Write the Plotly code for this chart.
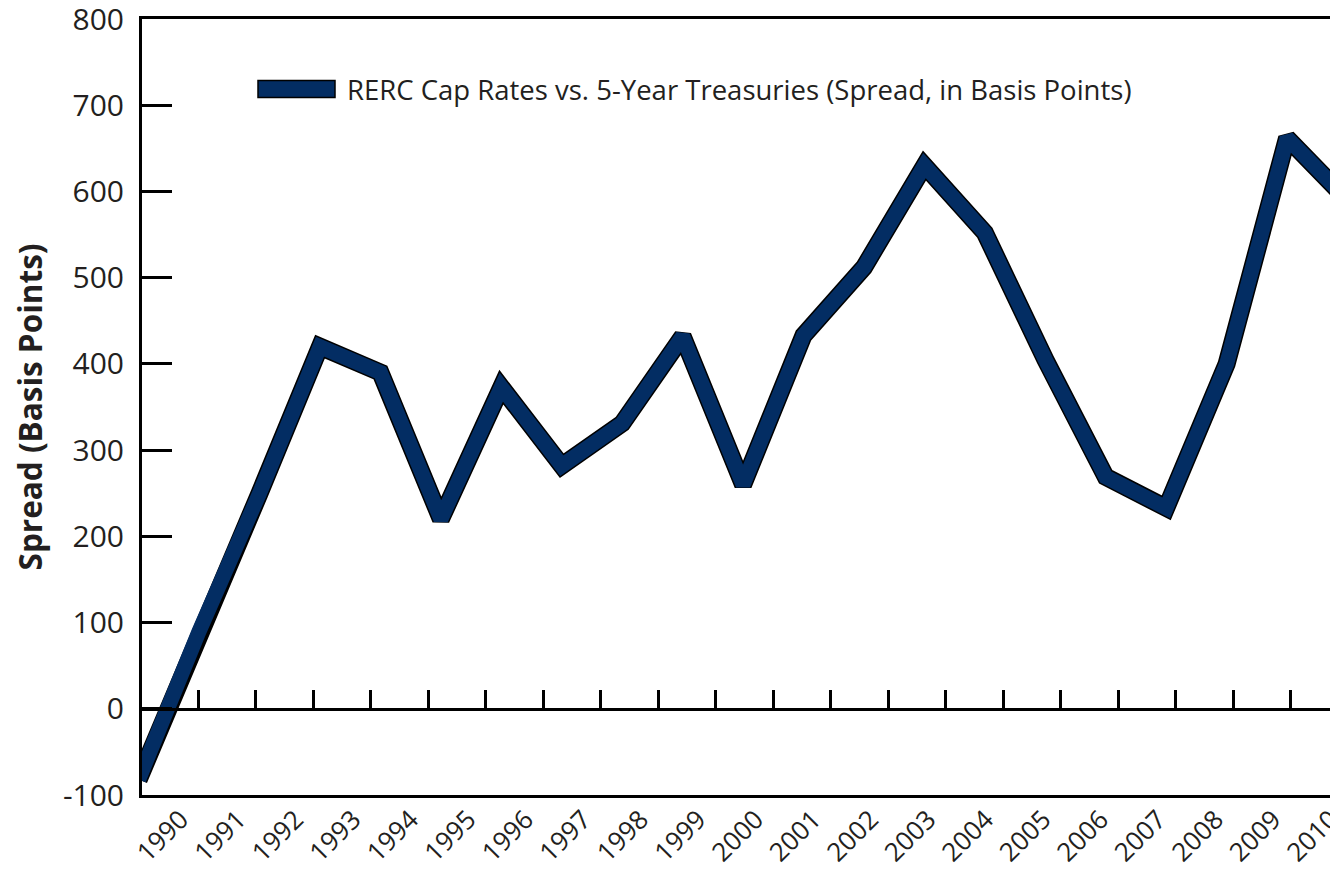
import plotly.graph_objects as go

# ---- data ----
years = list(range(1990, 2011))
year_labels = [str(y) for y in years]
spread_bp = [-82, 90, 250, 420, 390, 220, 373, 282, 331, 432, 260,
             433, 512, 630, 552, 405, 269, 233, 400, 662, 590]
y_ticks = list(range(-100, 801, 100))
y_tick_labels = [str(v) for v in y_ticks]
series_name = "RERC Cap Rates vs. 5-Year Treasuries (Spread, in Basis Points)"

# ---- style / layout ----
NAVY = "#032d63"
TXT = "#231f20"
FONT = "Open Sans"
W, H = 1338, 870
OFF = 8                      # page body margin in the browser
L, R, T, B = 134, 0, 10.5, 82.5

data_range = [years[0] + 0.055, years[0] + 19.975]
tick_range = [years[0] - 0.974, years[0] + 19.965]
lab_shift = 0.30
label_range = [tick_range[0] + lab_shift, tick_range[1] + lab_shift]

fig = go.Figure()
# dark outline under the navy line
fig.add_trace(go.Scatter(x=years, y=spread_bp, mode="lines",
                         line=dict(color="black", width=18),
                         showlegend=False, hoverinfo="skip"))
fig.add_trace(go.Scatter(x=years, y=spread_bp, mode="lines",
                         line=dict(color=NAVY, width=15),
                         name=series_name, showlegend=False))
# helper traces so the extra axes exist
fig.add_trace(go.Scatter(x=[], y=[], xaxis="x2", yaxis="y", showlegend=False, hoverinfo="skip"))
fig.add_trace(go.Scatter(x=[], y=[], xaxis="x3", yaxis="y", showlegend=False, hoverinfo="skip"))

fig.update_layout(
    width=W, height=H,
    margin=dict(l=L, r=R, t=T, b=B, pad=0, autoexpand=False),
    paper_bgcolor="white", plot_bgcolor="white",
    font=dict(family=FONT, color=TXT),
    xaxis=dict(range=data_range, showticklabels=False, ticks="",
               showline=True, mirror=True, linewidth=3, linecolor="black",
               showgrid=False, zeroline=False, automargin=False),
    xaxis2=dict(overlaying="x", anchor="y", side="bottom", range=label_range,
                tickmode="array", tickvals=years, ticktext=year_labels,
                tickangle=-45, ticks="", showline=False, showgrid=False,
                zeroline=False, automargin=False, ticklabeloverflow="allow",
                ticklabelstandoff=3,
                tickfont=dict(size=26, color=TXT, family=FONT)),
    xaxis3=dict(overlaying="x", anchor="free", position=(0 - (-100)) / 900, side="top",
                range=tick_range, tickmode="array", tickvals=years,
                ticks="outside", ticklen=18, tickwidth=3, tickcolor="black",
                showline=True, linewidth=3, linecolor="black", automargin=False,
                showticklabels=False, showgrid=False, zeroline=False),
    yaxis=dict(range=[-100, 800], tickmode="array", tickvals=y_ticks,
               ticktext=y_tick_labels, ticklabeloverflow="allow",
               ticks="inside", ticklen=30, tickwidth=3, tickcolor="black",
               showline=True, linewidth=3, linecolor="black",
               showgrid=False, zeroline=False, automargin=False,
               ticklabelstandoff=9,
               tickfont=dict(size=30, color=TXT, family=FONT),
               title=dict(text="Spread (Basis Points)",
                          font=dict(size=31.5, color=TXT, family=FONT, weight=700),
                          standoff=12)),
)

# legend (swatch + label), placed in page pixels
pw = W - L - R
ph = H - T - B
def px_x(p):
    return (p - OFF - L) / pw
def px_y(p):
    return (H - B - (p - OFF)) / ph

fig.add_shape(type="rect", xref="paper", yref="paper",
              x0=px_x(258), x1=px_x(335), y0=px_y(97), y1=px_y(80),
              fillcolor=NAVY, line=dict(color="black", width=1.5))
fig.add_annotation(xref="paper", yref="paper", x=px_x(345), y=px_y(89),
                   xanchor="left", yanchor="middle", showarrow=False,
                   text=series_name, font=dict(size=27.5, color=TXT, family=FONT))

fig.write_html("out.html")
